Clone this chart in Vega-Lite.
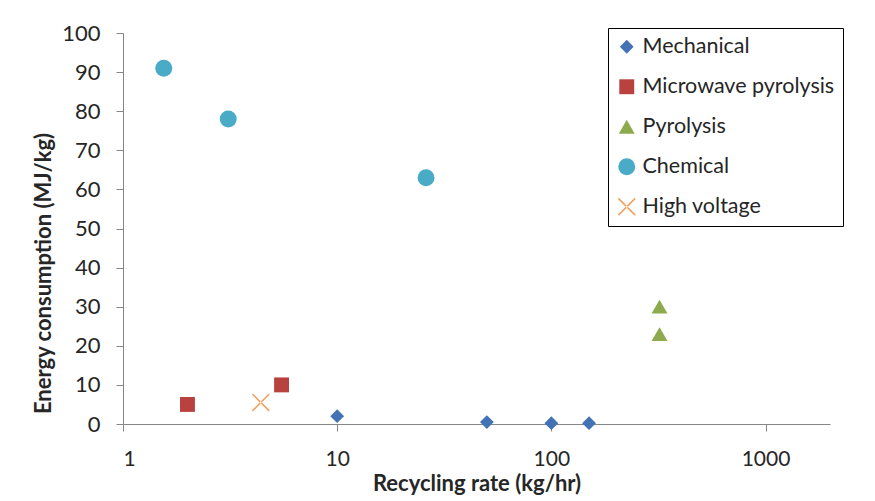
{
  "$schema": "https://vega.github.io/schema/vega-lite/v6.json",
  "autosize": "none",
  "width": 707,
  "height": 391,
  "padding": {"left": 123, "top": 33, "right": 45, "bottom": 77},
  "background": "white",
  "config": {
    "font": "Lato",
    "view": {"stroke": null},
    "axis": {"grid": false, "domainColor": "#868686", "tickColor": "#868686", "labelColor": "#262626", "titleColor": "#262626"}
  },
  "data": {
    "values": [
      {"series": "Mechanical", "rate": 10, "energy": 2},
      {"series": "Mechanical", "rate": 50, "energy": 0.5},
      {"series": "Mechanical", "rate": 100, "energy": 0.2},
      {"series": "Mechanical", "rate": 150, "energy": 0.2},
      {"series": "Microwave pyrolysis", "rate": 2, "energy": 5},
      {"series": "Microwave pyrolysis", "rate": 5.5, "energy": 10},
      {"series": "Pyrolysis", "rate": 320, "energy": 30},
      {"series": "Pyrolysis", "rate": 320, "energy": 23},
      {"series": "Chemical", "rate": 1.55, "energy": 91},
      {"series": "Chemical", "rate": 3.1, "energy": 78},
      {"series": "Chemical", "rate": 26, "energy": 63},
      {"series": "High voltage", "rate": 4.4, "energy": 5.5}
    ]
  },
  "mark": {"type": "point", "filled": true, "opacity": 1},
  "encoding": {
    "x": {
      "field": "rate", "type": "quantitative",
      "scale": {"type": "log", "domain": [1, 2000], "nice": false},
      "axis": {"values": [1, 10, 100, 1000], "format": "d", "labelFontSize": 21, "labelPadding": 17, "tickSize": 7, "title": "Recycling rate (kg/hr)", "titleFontSize": 22, "titleFontWeight": "bold", "titlePadding": 4}
    },
    "y": {
      "field": "energy", "type": "quantitative",
      "scale": {"domain": [0, 100], "nice": false},
      "axis": {"values": [0, 10, 20, 30, 40, 50, 60, 70, 80, 90, 100], "labelFontSize": 22, "labelPadding": 16, "tickSize": 7, "title": "Energy consumption  (MJ/kg)", "titleFontSize": 22, "titleFontWeight": "bold", "titlePadding": 6, "titleY": 240}
    },
    "color": {
      "field": "series", "type": "nominal",
      "scale": {"domain": ["Mechanical", "Microwave pyrolysis", "Pyrolysis", "Chemical", "High voltage"], "range": ["#4473B5", "#B9423F", "#8DAA4E", "#4AABC7", "#F0A060"]},
      "legend": {"orient": "none", "legendX": 485, "legendY": -5, "title": null, "strokeColor": "black", "padding": 8, "labelFontSize": 21.5, "labelLimit": 400, "labelColor": "#262626", "rowPadding": 17, "symbolSize": 150, "labelOffset": 5, "fillColor": "white"}
    },
    "shape": {
      "field": "series", "type": "nominal",
      "scale": {"domain": ["Mechanical", "Microwave pyrolysis", "Pyrolysis", "Chemical", "High voltage"], "range": ["diamond", "square", "triangle-up", "circle", "M-1,-0.88L-0.88,-1L1,0.88L0.88,1Z M1,-0.88L0.88,-1L-1,0.88L-0.88,1Z"]}
    },
    "size": {
      "field": "series", "type": "nominal",
      "scale": {"domain": ["Mechanical", "Microwave pyrolysis", "Pyrolysis", "Chemical", "High voltage"], "range": [190, 320, 260, 210, 200]},
      "legend": null
    }
  }
}
